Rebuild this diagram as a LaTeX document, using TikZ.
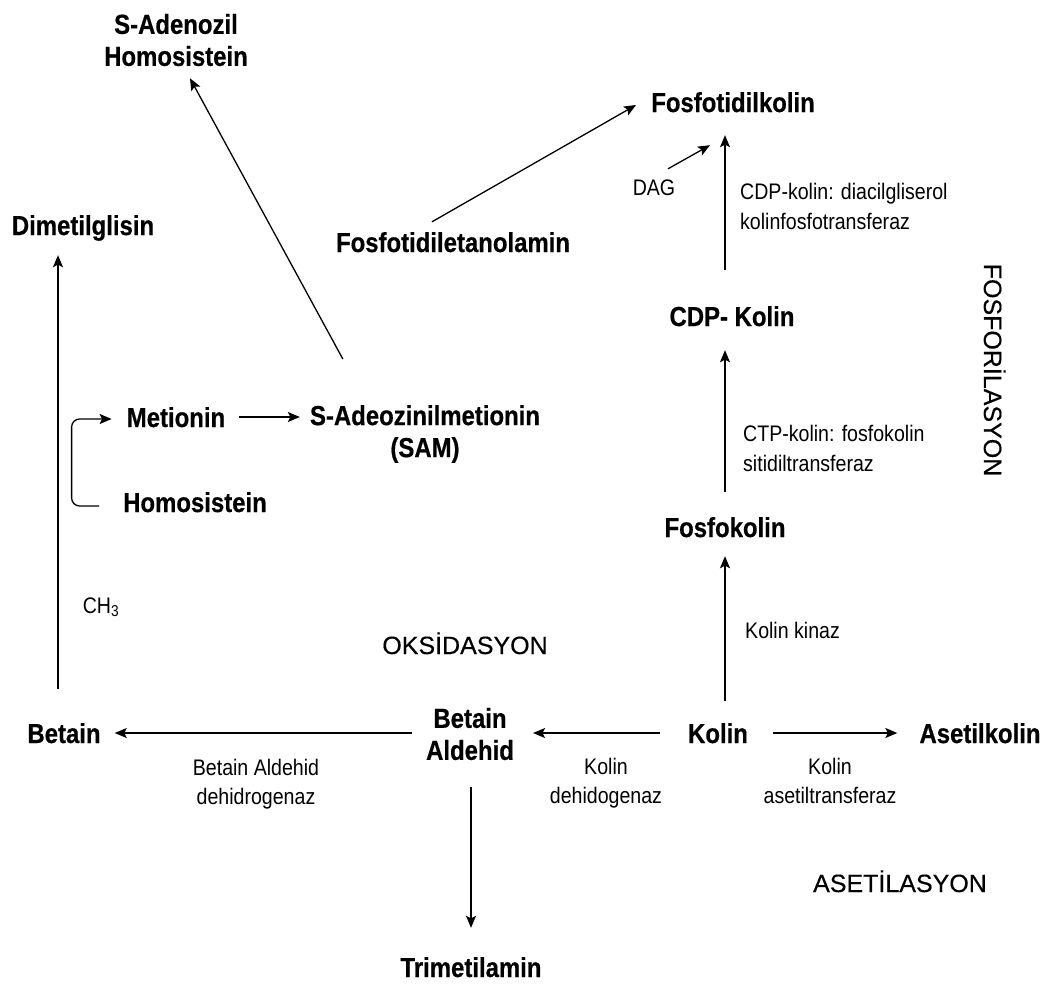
\documentclass[tikz,border=0pt]{standalone}
\usepackage{fontspec}
\setmainfont[FakeStretch=0.87, BoldFeatures={FakeBold=0.5}]{Liberation Sans}
\newfontfamily\plainf[FakeBold=0.3]{Liberation Sans}
\usetikzlibrary{arrows.meta,calc}
\begin{document}
\begin{tikzpicture}[x=1pt,y=-1pt,
  nd/.style={font=\fontsize{27.5pt}{32pt}\selectfont\bfseries, inner sep=0pt, text height=20pt, text depth=0pt},
  ndd/.style={font=\fontsize{27.5pt}{32pt}\selectfont\bfseries, inner sep=0pt, align=center},
  lb/.style={font=\fontsize{22.5pt}{29pt}\selectfont, inner sep=0pt, text height=16pt, text depth=0pt},
  lbb/.style={font=\fontsize{22.5pt}{29pt}\selectfont, inner sep=0pt, align=center},
  lbl/.style={font=\fontsize{22.5pt}{30pt}\selectfont, inner sep=0pt, align=left, anchor=west},
  big/.style={font={\plainf\fontsize{25pt}{30pt}\selectfont}, inner sep=0pt, text height=18pt, text depth=0pt},
  arr/.style={line width=1.3pt, -{Stealth[length=12pt,width=10pt,inset=2.5pt]}}]
\fill[white] (0,0) rectangle (1050,986);
\useasboundingbox (0,0) rectangle (1050,986);

% main nodes
\node[ndd] (sah) at (176,40) {S-Adenozil\\Homosistein};
\node[nd] (fk) at (733,102) {Fosfotidilkolin};
\node[nd] (dmg) at (83,225) {Dimetilglisin};
\node[nd] (fe) at (453,242) {Fosfotidiletanolamin};
\node[nd] (cdp) at (732,316) {CDP- Kolin};
\node[nd] (met) at (176,417) {Metionin};
\node[ndd] (sam) at (425,434) {S-Adeozinilmetionin\\(SAM)};
\node[nd] (homo) at (195,502) {Homosistein};
\node[nd] (fosfo) at (725,527) {Fosfokolin};
\node[nd] (kolin) at (718,733) {Kolin};
\node[nd] (asetil) at (980,733) {Asetilkolin};
\node[ndd] (betald) at (470,734) {Betain\\Aldehid};
\node[nd] (betain) at (64,733) {Betain};
\node[nd] (trim) at (471,967) {Trimetilamin};

% labels
\node[lb] (dag) at (654,187) {DAG};
\node[lbl] (lcdp) at (740,206) {CDP-kolin: diacilgliserol\\kolinfosfotransferaz};
\node[lbl] (lctp) at (743,448) {CTP-kolin: fosfokolin\\sitidiltransferaz};
\node[lb, anchor=west] (lkin) at (745,630) {Kolin kinaz};
\node[lbb] (lace) at (830,781) {Kolin\\asetiltransferaz};
\node[lbb] (ldeh) at (606,783) {Kolin\\dehidogenaz};
\node[lbb] (lbad) at (256,784) {Betain Aldehid\\dehidrogenaz};
\node[lb] (ch3) at (101,605) {CH\textsubscript{3}};
\node[big] (oks) at (465,645) {OKSİDASYON};
\node[big] (ask) at (900,883) {ASETİLASYON};
\node[big, rotate=-90] (fsf) at (993,370) {FOSFORİLASYON};

% connectors
\draw[arr] ($(kolin.west)+(-28,0)$) -- ($(kolin.west -| betald.east)+(19,0)$);
\draw[arr] ($(kolin.east)+(25,0)$) -- ($(kolin.east -| asetil.west)+(-22,0)$);
\draw[arr] ($(kolin.north -| fosfo.south)+(0,-22)$) -- ($(fosfo.south)+(0,19)$);
\draw[arr] ($(fosfo.north)+(0,-25)$) -- ($(cdp.south -| fosfo.north)+(0,24)$);
\draw[arr] ($(cdp.north -| fosfo.north)+(0,-36)$) -- ($(fk.south -| fosfo.north)+(0,23)$);
\draw[arr] ($(fe.north)+(-21,-10)$) -- ($(fk.west)+(-15,3)$);
\draw[arr] ($(dag.north)+(14,-10)$) -- ($(fk.south)+(-23,33)$);
\draw[arr] ($(sam.north west)+(33,-46)$) -- ($(sah.south)+(14,12)$);
\draw[arr] ($(met.east)+(14,0)$) -- ($(met.east -| sam.west)+(-10,0)$);
\draw[arr, rounded corners=8pt] ($(homo.west)+(-24,4)$) -| ($(met.west)+(-55,2)$) -- ($(met.west)+(-15,2)$);
\draw[arr] ($(betald.west)+(-14,-1)$) -- ($(betald.west -| betain.east)+(14,-1)$);
\draw[arr] ($(betain.north)+(-6,-34)$) -- ($(betain.north |- dmg.south)+(-6,20)$);
\draw[arr] ($(betald.south)+(1,27)$) -- ($(trim.north)+(0,-29)$);
\end{tikzpicture}
\end{document}
